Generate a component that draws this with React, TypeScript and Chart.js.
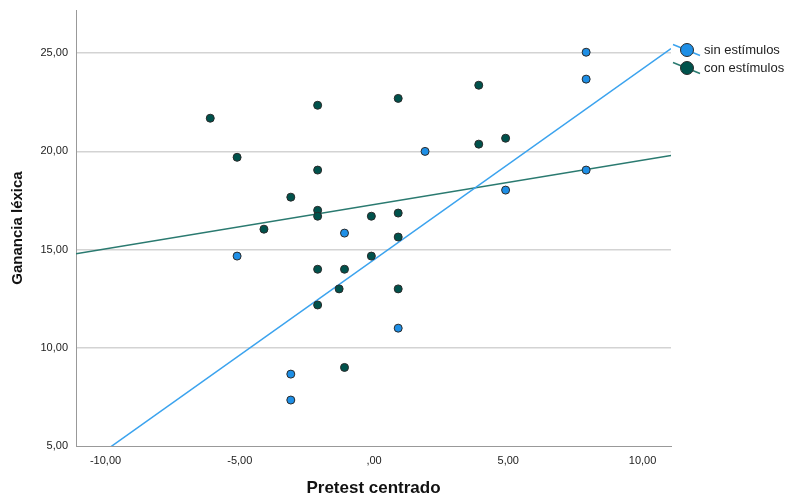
import React, { useEffect, useRef } from "react";
import { Chart, registerables } from "chart.js";

Chart.register(...registerables);

// ---- Data ----
const seriesNames = ["sin estímulos", "con estímulos"];

// sin estímulos (blue)
const sinX = [-5.1, -3.1, -3.1, -1.1, 0.9, 1.9, 4.9, 7.9, 7.9, 7.9];
const sinY = [14.67, 8.66, 7.34, 15.84, 11.0, 20.0, 18.03, 25.05, 23.68, 19.05];

// con estímulos (teal)
const conX = [-6.1, -5.1, -4.1, -3.1, -2.1, -2.1, -2.1, -2.1, -2.1, -2.1, -1.1, -1.3, -1.1, -0.1, -0.1, 0.9, 0.9, 0.9, 0.9, 3.9, 3.9, 4.9];
const conY = [21.69, 19.7, 16.04, 17.67, 22.35, 19.05, 17.0, 16.7, 14.0, 12.18, 14.0, 13.0, 9.0, 16.7, 14.67, 22.7, 16.86, 15.64, 13.0, 23.37, 20.37, 20.67];

const xTickValues = [-10, -5, 0, 5, 10];
const yTickValues = [5, 10, 15, 20, 25];
const xRange = [-11.1, 11.06];
const yRange = [5, 27.2];

const xTitle = "Pretest centrado";
const yTitle = "Ganancia léxica";

// ---- Styles ----
const pointColors = ["#1e8fe6", "#00524c"];
const lineColors = ["#3ba3ee", "#2a7a70"];
const FONT = "'Liberation Sans', Arial, sans-serif";

function fit(xs: number[], ys: number[]) {
  const n = xs.length;
  const mx = xs.reduce((a, b) => a + b, 0) / n;
  const my = ys.reduce((a, b) => a + b, 0) / n;
  let sxy = 0;
  let sxx = 0;
  for (let i = 0; i < n; i++) {
    sxy += (xs[i] - mx) * (ys[i] - my);
    sxx += (xs[i] - mx) * (xs[i] - mx);
  }
  const b = sxy / sxx;
  const a = my - b * mx;
  return xRange.map((x) => ({ x, y: a + b * x }));
}

function fmt(v: number) {
  let s = Number(v).toFixed(2).replace(".", ",");
  s = s.replace(/^(-?)0,/, "$1,");
  return s;
}

const legendPlugin = {
  id: "customLegend",
  afterDraw(chart: any) {
    const ctx = chart.ctx;
    ctx.save();
    const cx = 687;
    const ys = [50, 68];
    seriesNames.forEach((name, i) => {
      const cy = ys[i];
      ctx.strokeStyle = lineColors[i];
      ctx.lineWidth = 1.5;
      ctx.beginPath();
      ctx.moveTo(cx - 14, cy - 5.5);
      ctx.lineTo(cx + 13, cy + 5.5);
      ctx.stroke();
      ctx.beginPath();
      ctx.arc(cx, cy, 6.5, 0, Math.PI * 2);
      ctx.fillStyle = pointColors[i];
      ctx.fill();
      ctx.strokeStyle = "#2a2a2a";
      ctx.lineWidth = 1;
      ctx.stroke();
      ctx.fillStyle = "#222";
      ctx.font = `13px ${FONT}`;
      ctx.textBaseline = "middle";
      ctx.textAlign = "left";
      ctx.fillText(name, 704, cy);
    });
    ctx.restore();
  },
};

export default function App() {
  const ref = useRef<HTMLCanvasElement | null>(null);

  useEffect(() => {
    if (!ref.current) return;
    const keepTicks = (vals: number[]) => (scale: any) => {
      scale.ticks = vals.map((v) => ({ value: v }));
    };
    const chart = new Chart(ref.current, {
      type: "scatter",
      data: {
        datasets: [
          {
            label: seriesNames[0],
            data: sinX.map((x, i) => ({ x, y: sinY[i] })),
            backgroundColor: pointColors[0],
            borderColor: "#2a2a2a",
            borderWidth: 1,
            pointRadius: 4,
            order: 1,
          },
          {
            label: seriesNames[1],
            data: conX.map((x, i) => ({ x, y: conY[i] })),
            backgroundColor: pointColors[1],
            borderColor: "#2a2a2a",
            borderWidth: 1,
            pointRadius: 4,
            order: 1,
          },
          {
            type: "line",
            label: seriesNames[0] + " fit",
            data: fit(sinX, sinY),
            borderColor: lineColors[0],
            borderWidth: 1.5,
            pointRadius: 0,
            showLine: true,
            order: 2,
          } as any,
          {
            type: "line",
            label: seriesNames[1] + " fit",
            data: fit(conX, conY),
            borderColor: lineColors[1],
            borderWidth: 1.5,
            pointRadius: 0,
            showLine: true,
            order: 2,
          } as any,
        ],
      },
      options: {
        animation: false,
        responsive: false,
        layout: { padding: { top: 10, right: 118, left: 0, bottom: 0 } },
        plugins: {
          legend: { display: false },
          tooltip: { enabled: false },
        },
        scales: {
          x: {
            type: "linear",
            min: xRange[0],
            max: xRange[1],
            afterBuildTicks: keepTicks(xTickValues),
            afterFit: (s: any) => {
              s.height = 53;
              s.paddingLeft = 0;
              s.paddingRight = 0;
            },
            grid: { display: false, drawTicks: false },
            border: { display: true, color: "#999", width: 1 },
            ticks: {
              padding: 8,
              color: "#222",
              font: { family: FONT, size: 11 },
              callback: (v: any) => fmt(v),
              maxRotation: 0,
            },
            title: {
              display: true,
              text: xTitle,
              color: "#111",
              font: { family: FONT, size: 17, weight: "bold" },
              padding: { top: 0, bottom: 0 },
            },
          },
          y: {
            type: "linear",
            min: yRange[0],
            max: yRange[1],
            afterBuildTicks: keepTicks(yTickValues),
            afterFit: (s: any) => {
              s.width = 76;
              s.paddingTop = 0;
              s.paddingBottom = 0;
            },
            grid: {
              drawTicks: false,
              color: (c: any) => (c.tick && c.tick.value === yRange[0] ? "rgba(0,0,0,0)" : "#d3d3d3"),
              lineWidth: 1.5,
            },
            border: { display: true, color: "#999", width: 1 },
            ticks: {
              padding: 8,
              color: "#222",
              font: { family: FONT, size: 11 },
              callback: (v: any) => fmt(v),
            },
            title: {
              display: true,
              text: yTitle,
              color: "#111",
              font: { family: FONT, size: 15, weight: "bold" },
              padding: { top: 9, bottom: 0 },
            },
          },
        },
      },
      plugins: [legendPlugin],
    });
    return () => chart.destroy();
  }, []);

  return (
    <div style={{ position: "fixed", left: 0, top: 0, width: 789, height: 499, background: "#fff" }}>
      <canvas ref={ref} width={789} height={499} style={{ display: "block" }} />
    </div>
  );
}
